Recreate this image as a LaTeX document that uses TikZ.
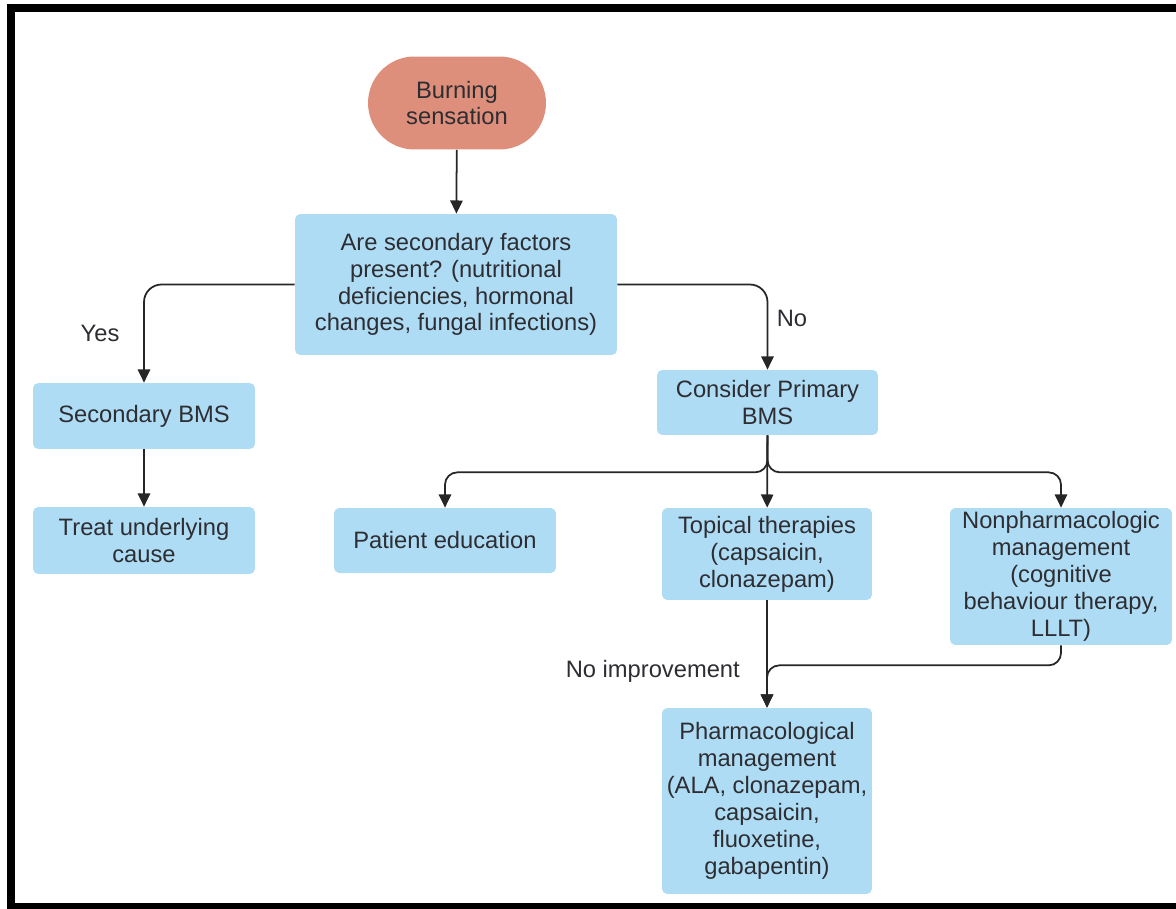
\documentclass[tikz,border=0pt]{standalone}
\usepackage{fontspec}
\setmainfont{Liberation Sans}
\usetikzlibrary{arrows.meta}
\definecolor{boxblue}{RGB}{174,220,244}
\definecolor{pillred}{RGB}{222,143,123}
\definecolor{txtgray}{RGB}{45,45,50}

\begin{document}
\begin{tikzpicture}[x=0.02cm,y=-0.02cm,font=\fontsize{13.5pt}{15.3pt}\selectfont,
  box/.style={fill=boxblue,rounded corners=3pt,align=center,text=txtgray,inner sep=0pt},
  arr/.style={-{Triangle[length=7.5pt,width=7pt]},line width=1pt,black!85},
  lbl/.style={text=txtgray}]
\useasboundingbox (0,0) rectangle (1176,909);
\begin{scope}
\clip (0,0) rectangle (1176,909);
\draw[line width=0.16cm] (11,8) rectangle (1195,907);
\end{scope}
\node[box,fill=pillred,rounded corners=0.93cm,minimum width=3.56cm,minimum height=1.86cm] (burn) at (457,103) {Burning\\sensation};
\node[box,minimum width=6.44cm,minimum height=2.82cm] (quest) at (456,284.5) {Are secondary factors\\present? (nutritional\\deficiencies, hormonal\\changes, fungal infections)};
\node[box,minimum width=4.44cm,minimum height=1.32cm] (secbms) at (144,416) {Secondary BMS};
\node[box,minimum width=4.44cm,minimum height=1.34cm] (treat) at (144,540.5) {Treat underlying\\cause};
\node[box,minimum width=4.42cm,minimum height=1.3cm] (primbms) at (767.5,402.5) {Consider Primary\\BMS};
\node[box,minimum width=4.44cm,minimum height=1.3cm] (educ) at (445,540.5) {Patient education};
\node[box,minimum width=4.2cm,minimum height=1.84cm] (topical) at (767,554) {Topical therapies\\(capsaicin,\\clonazepam)};
\node[box,minimum width=4.44cm,minimum height=2.74cm] (nonpharm) at (1061,576.5) {Nonpharmacologic\\management\\(cognitive\\behaviour therapy,\\LLLT)};
\node[box,minimum width=4.2cm,minimum height=3.72cm] (pharm) at (767,801) {Pharmacological\\management\\(ALA, clonazepam,\\capsaicin,\\fluoxetine,\\gabapentin)};
\node[lbl] (yes) at (100,333) {Yes};
\node[lbl] (no) at (792,318) {No};
\node[lbl,anchor=east] (noimp) at (746,671) {No improvement};
\draw[arr] (burn) -- (quest);
\draw[arr,rounded corners=10pt] (quest.west) -| (secbms.north);
\draw[arr,rounded corners=10pt] (quest.east) -| (primbms.north);
\draw[arr] (secbms) -- (treat);
\draw[arr] (primbms) -- (topical);
\draw[arr,rounded corners=7pt] (primbms.south) -- ++(0,37) -| (educ.north);
\draw[arr,rounded corners=7pt] (primbms.south) -- ++(0,37) -| (nonpharm.north);
\draw[arr] (topical) -- (pharm);
\draw[arr,rounded corners=7pt] (nonpharm.south) -- ++(0,20) -| (pharm.north);
\end{tikzpicture}
\end{document}
